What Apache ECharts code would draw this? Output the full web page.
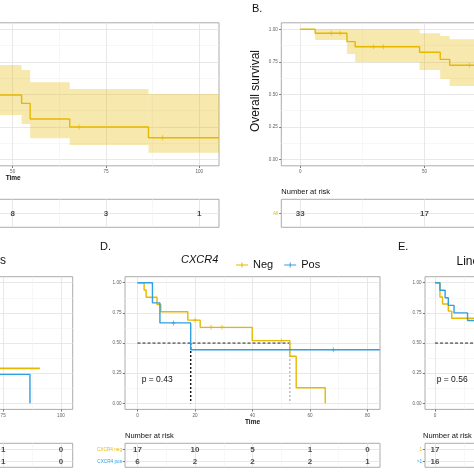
<!DOCTYPE html>
<html><head><meta charset="utf-8">
<script src="https://cdn.jsdelivr.net/npm/echarts@6/dist/echarts.min.js"></script>
<style>html,body{margin:0;padding:0;background:#fff}#c{width:474px;height:474px}</style>
</head><body><div id="c"></div>
<script>
// ================= DATA =================
// Panel A (overall survival, right part visible)
const aTime = [40, 52.4, 54.7, 65.3, 86.4, 105.3];
const aSurv = [0.495, 0.43, 0.31, 0.248, 0.166, 0.166];
const aCiFrom = [40, 52.4, 54.7, 65.3, 86.4];
const aCiTo = [52.4, 54.7, 65.3, 86.4, 105.3];
const aCiLow = [0.341, 0.272, 0.162, 0.110, 0.051];
const aCiHigh = [0.725, 0.687, 0.592, 0.541, 0.502];
const aCensorTime = [67.8, 90.2];
const aRiskTime = [50, 75, 100];
const aRisk = [8, 3, 1];
const aTicks = [0, 25, 50, 75, 100];
const aMinor = [12.5, 37.5, 62.5, 87.5];

// Panel B (overall survival)
const bTime = [0, 6.0, 18.8, 22.1, 48.0, 56.3, 60.1, 72];
const bSurv = [1, 0.970, 0.905, 0.866, 0.823, 0.769, 0.723, 0.723];
const bCiFrom = [6.0, 18.8, 22.1, 48.0, 56.3, 60.1];
const bCiTo = [18.8, 22.1, 48.0, 56.3, 60.1, 72];
const bCiLow = [0.918, 0.81, 0.746, 0.687, 0.618, 0.564];
const bCiHigh = [1.0, 1.0, 1.0, 0.969, 0.948, 0.923];
const bCensorTime = [12.5, 16.1, 29.5, 33.4, 68.0];
const bRiskTime = [0, 50];
const bRisk = [33, 17];
const bTicks = [0, 50, 100, 150];
const bMinor = [25, 75, 125];

// Panel C (right part visible)
const cNegTime = [60, 90.9];
const cNegSurv = [0.29, 0.29];
const cPosTime = [60, 86.6];
const cPosSurv = [0.24, 0];
const cRiskTime = [75, 100];
const cRiskNeg = [1, 0];
const cRiskPos = [1, 0];

// Panel D (CXCR4)
const dNegTime = [0, 2.3, 3.0, 6.8, 8.1, 17.5, 21.8, 39.9, 53.0, 55.2, 65.3];
const dNegSurv = [1, 0.94, 0.88, 0.82, 0.76, 0.69, 0.63, 0.52, 0.39, 0.13, 0];
const dPosTime = [0, 5.2, 7.8, 18.5, 84.3];
const dPosSurv = [1, 0.833, 0.667, 0.444, 0.444];
const dNegCensor = [20.0, 25.6, 29.4, 50.1];
const dPosCensor = [12.5, 68.1];
const dMedianNeg = 53.0;
const dMedianPos = 18.5;
const dRiskTime = [0, 20, 40, 60, 80];
const dRiskNeg = [17, 10, 5, 1, 0];
const dRiskPos = [6, 2, 2, 2, 1];
const dTicks = [0, 20, 40, 60, 80];
const dMinor = [10, 30, 50, 70];

// Panel E (lines)
const eNegTime = [0, 1.7, 2.6, 4.6, 5.8, 16];
const eNegSurv = [1, 0.882, 0.824, 0.765, 0.706, 0.706];
const ePosTime = [0, 1.7, 3.5, 4.6, 6.6, 11.3, 16];
const ePosSurv = [1, 0.9375, 0.875, 0.8125, 0.75, 0.6875, 0.6875];
const eRiskTime = [0];
const eRiskNeg = [17];
const eRiskPos = [16];

const yTicks = [0, 0.25, 0.5, 0.75, 1];
const yMinor = [0.125, 0.375, 0.625, 0.875];

// ================= STYLE =================
const FONT = '"Liberation Sans", Arial, Helvetica, sans-serif';
const YEL = '#E7B800', BLU = '#2E9FDF', BAND = 'rgba(231,184,0,0.32)';
const GRID_MAJOR = '#e2e2e2', GRID_MINOR = '#f1f1f1', BORDER = '#a3a3a3', TICKC = '#5a5a5a';
const PLUS = 'path://M4,0H6V4H10V6H6V10H4V6H0V4H4Z';
const LEGICON = 'path://M0,4H24V6H0Z M11,0H13V10H11Z';

function survAt(ts, ss, t) { let v = ss[0]; for (let i = 0; i < ts.length; i++) if (ts[i] <= t) v = ss[i]; return v; }

const grids = [], xAxis = [], yAxis = [], series = [], graphic = [];
function grid(left, top, width, height) {
  grids.push({left, top, width, height, show: true, borderColor: BORDER, borderWidth: 0.9, backgroundColor: 'transparent',
    containLabel: false, outerBoundsMode: 'none'});
  return grids.length - 1;
}
function addAxes(list, pos, gi, min, max, majors, minors, o) {
  o = o || {};
  const main = {type: 'value', gridIndex: gi, min, max, position: pos, inverse: !!o.inverse,
    axisLine: {show: false, onZero: false},
    axisTick: {show: !!o.labels, length: 2.2, lineStyle: {color: TICKC, width: 0.8}, customValues: majors},
    axisLabel: {show: !!o.labels, customValues: majors, fontSize: o.fs || 4.6, color: o.labelColor || '#606060', margin: o.margin || 3.5, fontFamily: FONT, hideOverlap: false},
    splitLine: {show: true, lineStyle: {color: GRID_MAJOR, width: 0.8}}};
  if (o.fmt) main.axisLabel.formatter = o.fmt;
  if (o.name) { main.name = o.name; main.nameLocation = 'middle'; main.nameGap = o.nameGap; main.nameTextStyle = o.nameStyle; }
  list.push(main);
  const idx = list.length - 1;
  if (minors) list.push({type: 'value', gridIndex: gi, min, max, position: pos, inverse: !!o.inverse,
    axisLine: {show: false, onZero: false}, axisTick: {show: false, customValues: minors},
    axisLabel: {show: false, customValues: minors}, splitLine: {show: true, lineStyle: {color: GRID_MINOR, width: 0.6}}});
  return idx;
}
function stepLine(xi, yi, times, surv, color, name, width) {
  series.push({type: 'line', name, xAxisIndex: xi, yAxisIndex: yi, step: 'end',
    data: times.map((t, i) => [t, surv[i]]), symbol: 'none', showSymbol: false,
    lineStyle: {color, width: width || 1.4}, itemStyle: {color}, silent: true, z: 3});
}
function band(xi, yi, from, to, lo, hi) {
  series.push({type: 'custom', xAxisIndex: xi, yAxisIndex: yi, clip: true, z: 1, silent: true,
    data: from.map((f, i) => [f, to[i], lo[i], hi[i]]), encode: {x: [0, 1], y: [2, 3]},
    renderItem: (p, api) => {
      const a = api.coord([api.value(0), api.value(3)]);
      const b = api.coord([api.value(1), api.value(2)]);
      return {type: 'rect', shape: {x: a[0], y: a[1], width: b[0] - a[0], height: b[1] - a[1]}, style: {fill: BAND}};
    }});
}
function censors(xi, yi, ctimes, ts, ss, color, name) {
  series.push({type: 'scatter', name, xAxisIndex: xi, yAxisIndex: yi, symbol: PLUS, symbolSize: [4, 5],
    itemStyle: {color}, data: ctimes.map(t => [t, survAt(ts, ss, t)]), silent: true, z: 4});
}
function segLine(xi, yi, pts, color, width, dash) {
  series.push({type: 'line', xAxisIndex: xi, yAxisIndex: yi, data: pts, symbol: 'none', silent: true, z: 2,
    lineStyle: {color, width, type: dash}});
}
function riskTable(gi, xmin, xmax, majors, minors, rows, rowColors, times, countsPerRow) {
  const xi = addAxes(xAxis, 'bottom', gi, xmin, xmax, majors, minors, {labels: false});
  const yi = addAxes(yAxis, 'left', gi, -0.5, rows.length - 0.5, rows.map((r, i) => i), null,
    {labels: true, inverse: true, fs: 4.7, margin: 3,
     fmt: v => rows[Math.round(+v)] });
  yAxis[yi].axisLabel.color = (v) => rowColors[Math.round(+v)];
  const data = [];
  countsPerRow.forEach((cnt, r) => cnt.forEach((c, i) => data.push([times[i], r, c])));
  series.push({type: 'scatter', xAxisIndex: xi, yAxisIndex: yi, symbolSize: 1, itemStyle: {color: 'rgba(0,0,0,0)'},
    data, silent: true, z: 5,
    label: {show: true, position: 'inside', formatter: p => String(p.data[2]), fontSize: 8, fontWeight: 'bold', color: '#1a1a1a', fontFamily: FONT}});
}
function txt(x, y, text, size, o) {
  o = o || {};
  graphic.push({type: 'text', x, y, rotation: o.rot || 0, z: 10, silent: true,
    style: {text, fontSize: size, fontFamily: FONT, fill: o.color || '#111', align: o.align || 'left', verticalAlign: 'middle',
      fontStyle: o.italic ? 'italic' : 'normal', fontWeight: o.bold ? 'bold' : 'normal'}});
}
const yFmt = v => (+v).toFixed(2);
const timeName = {fontSize: 6.5, fontWeight: 'bold', color: '#111', fontFamily: FONT};

// ================= PANEL A =================
{
  const g = grid(-192.6, 22.8, 411.6, 143);
  const xi = addAxes(xAxis, 'bottom', g, -5, 105.3, aTicks, aMinor, {labels: true, name: 'Time', nameGap: 9, nameStyle: timeName});
  const yi = addAxes(yAxis, 'left', g, -0.05, 1.05, yTicks, yMinor, {labels: true, fmt: yFmt});
  band(xi, yi, aCiFrom, aCiTo, aCiLow, aCiHigh);
  stepLine(xi, yi, aTime, aSurv, YEL, 'All A');
  censors(xi, yi, aCensorTime, aTime, aSurv, YEL, 'All A');
  const tg = grid(-192.6, 199.3, 411.6, 28);
  riskTable(tg, -5, 105.3, aTicks, aMinor, ['All'], [YEL], aRiskTime, [aRisk]);
  txt(-192.6, 191.7, 'Number at risk', 7.5);
}
// ================= PANEL B =================
{
  const g = grid(281.3, 22.8, 420, 143);
  const xi = addAxes(xAxis, 'bottom', g, -7.6, -7.6 + 420 / 2.487, bTicks, bMinor, {labels: true, name: 'Time', nameGap: 9, nameStyle: timeName});
  const yi = addAxes(yAxis, 'left', g, -0.05, 1.05, yTicks, yMinor, {labels: true, fmt: yFmt});
  band(xi, yi, bCiFrom, bCiTo, bCiLow, bCiHigh);
  stepLine(xi, yi, bTime, bSurv, YEL, 'All B');
  censors(xi, yi, bCensorTime, bTime, bSurv, YEL, 'All B');
  const tg = grid(281.3, 199.3, 420, 28);
  riskTable(tg, -7.6, -7.6 + 420 / 2.487, bTicks, bMinor, ['All'], [YEL], bRiskTime, [bRisk]);
  txt(281.3, 191.7, 'Number at risk', 7.5);
  txt(252, 9, 'B.', 11);
  txt(256, 91, 'Overall survival', 12, {align: 'center', rot: Math.PI / 2});
}
// ================= PANEL C =================
{
  const g = grid(-181.6, 276.7, 254.3, 132.7);
  const xi = addAxes(xAxis, 'bottom', g, -5, 105.1, aTicks, aMinor, {labels: true});
  const yi = addAxes(yAxis, 'left', g, -0.05, 1.05, yTicks, yMinor, {labels: true, fmt: yFmt});
  stepLine(xi, yi, cNegTime, cNegSurv, YEL, 'C neg', 1.8);
  stepLine(xi, yi, cPosTime, cPosSurv, BLU, 'C pos');
  const tg = grid(-181.6, 443.3, 254.3, 24);
  riskTable(tg, -5, 105.1, aTicks, aMinor, ['neg', 'pos'], [YEL, BLU], cRiskTime, [cRiskNeg, cRiskPos]);
  txt(0, 260.5, 's', 12);
}
// ================= PANEL D =================
{
  const g = grid(125, 276.7, 255, 132.7);
  const xi = addAxes(xAxis, 'bottom', g, -4.35, 84.35, dTicks, dMinor, {labels: true, name: 'Time', nameGap: 9, nameStyle: timeName});
  const yi = addAxes(yAxis, 'left', g, -0.05, 1.05, yTicks, yMinor, {labels: true, fmt: yFmt});
  segLine(xi, yi, [[0, 0.5], [dMedianNeg, 0.5]], '#222', 1, [3, 2]);
  segLine(xi, yi, [[dMedianPos, 0.5], [dMedianPos, 0]], '#111', 1.4, [2, 2]);
  segLine(xi, yi, [[dMedianNeg, 0.5], [dMedianNeg, 0]], '#9a9a9a', 1, [2, 2]);
  stepLine(xi, yi, dNegTime, dNegSurv, YEL, 'Neg');
  stepLine(xi, yi, dPosTime, dPosSurv, BLU, 'Pos');
  censors(xi, yi, dNegCensor, dNegTime, dNegSurv, YEL, 'Neg');
  censors(xi, yi, dPosCensor, dPosTime, dPosSurv, BLU, 'Pos');
  const tg = grid(125, 443.3, 255, 24);
  riskTable(tg, -4.35, 84.35, dTicks, dMinor, ['CXCR4 neg', 'CXCR4 pos'], [YEL, BLU], dRiskTime, [dRiskNeg, dRiskPos]);
  txt(125, 436, 'Number at risk', 7.5);
  txt(100, 246.5, 'D.', 11);
  txt(181, 260, 'CXCR4', 11, {italic: true});
  txt(141.7, 379.5, 'p = 0.43', 8.5);
}
// ================= PANEL E =================
{
  const g = grid(425, 276.7, 252.4, 132.7);
  const xi = addAxes(xAxis, 'bottom', g, -3.5, 84.3, dTicks, dMinor, {labels: true, name: 'Time', nameGap: 9, nameStyle: timeName});
  const yi = addAxes(yAxis, 'left', g, -0.05, 1.05, yTicks, yMinor, {labels: true, fmt: yFmt});
  segLine(xi, yi, [[0, 0.5], [84.3, 0.5]], '#222', 1, [3, 2]);
  stepLine(xi, yi, eNegTime, eNegSurv, YEL, 'E 1');
  stepLine(xi, yi, ePosTime, ePosSurv, BLU, 'E >1');
  const tg = grid(425, 443.3, 252.4, 24);
  riskTable(tg, -3.5, 84.3, dTicks, dMinor, ['1', '>1'], [YEL, BLU], eRiskTime, [eRiskNeg, eRiskPos]);
  txt(423, 436, 'Number at risk', 7.5);
  txt(398, 246.5, 'E.', 11);
  txt(456.5, 261.5, 'Lines', 12);
  txt(436.7, 380, 'p = 0.56', 8.5);
}

const chart = echarts.init(document.getElementById('c'), null, {renderer: 'canvas'});
chart.setOption({
  animation: false,
  backgroundColor: '#fff',
  grid: grids, xAxis, yAxis, series, graphic,
  legend: {show: true, left: 231, top: 254.5, itemWidth: 12, itemHeight: 8, itemGap: 11, selectedMode: false,
    textStyle: {fontSize: 11, fontFamily: FONT, color: '#111'},
    data: [{name: 'Neg', icon: LEGICON}, {name: 'Pos', icon: LEGICON}]}
});
</script></body></html>
